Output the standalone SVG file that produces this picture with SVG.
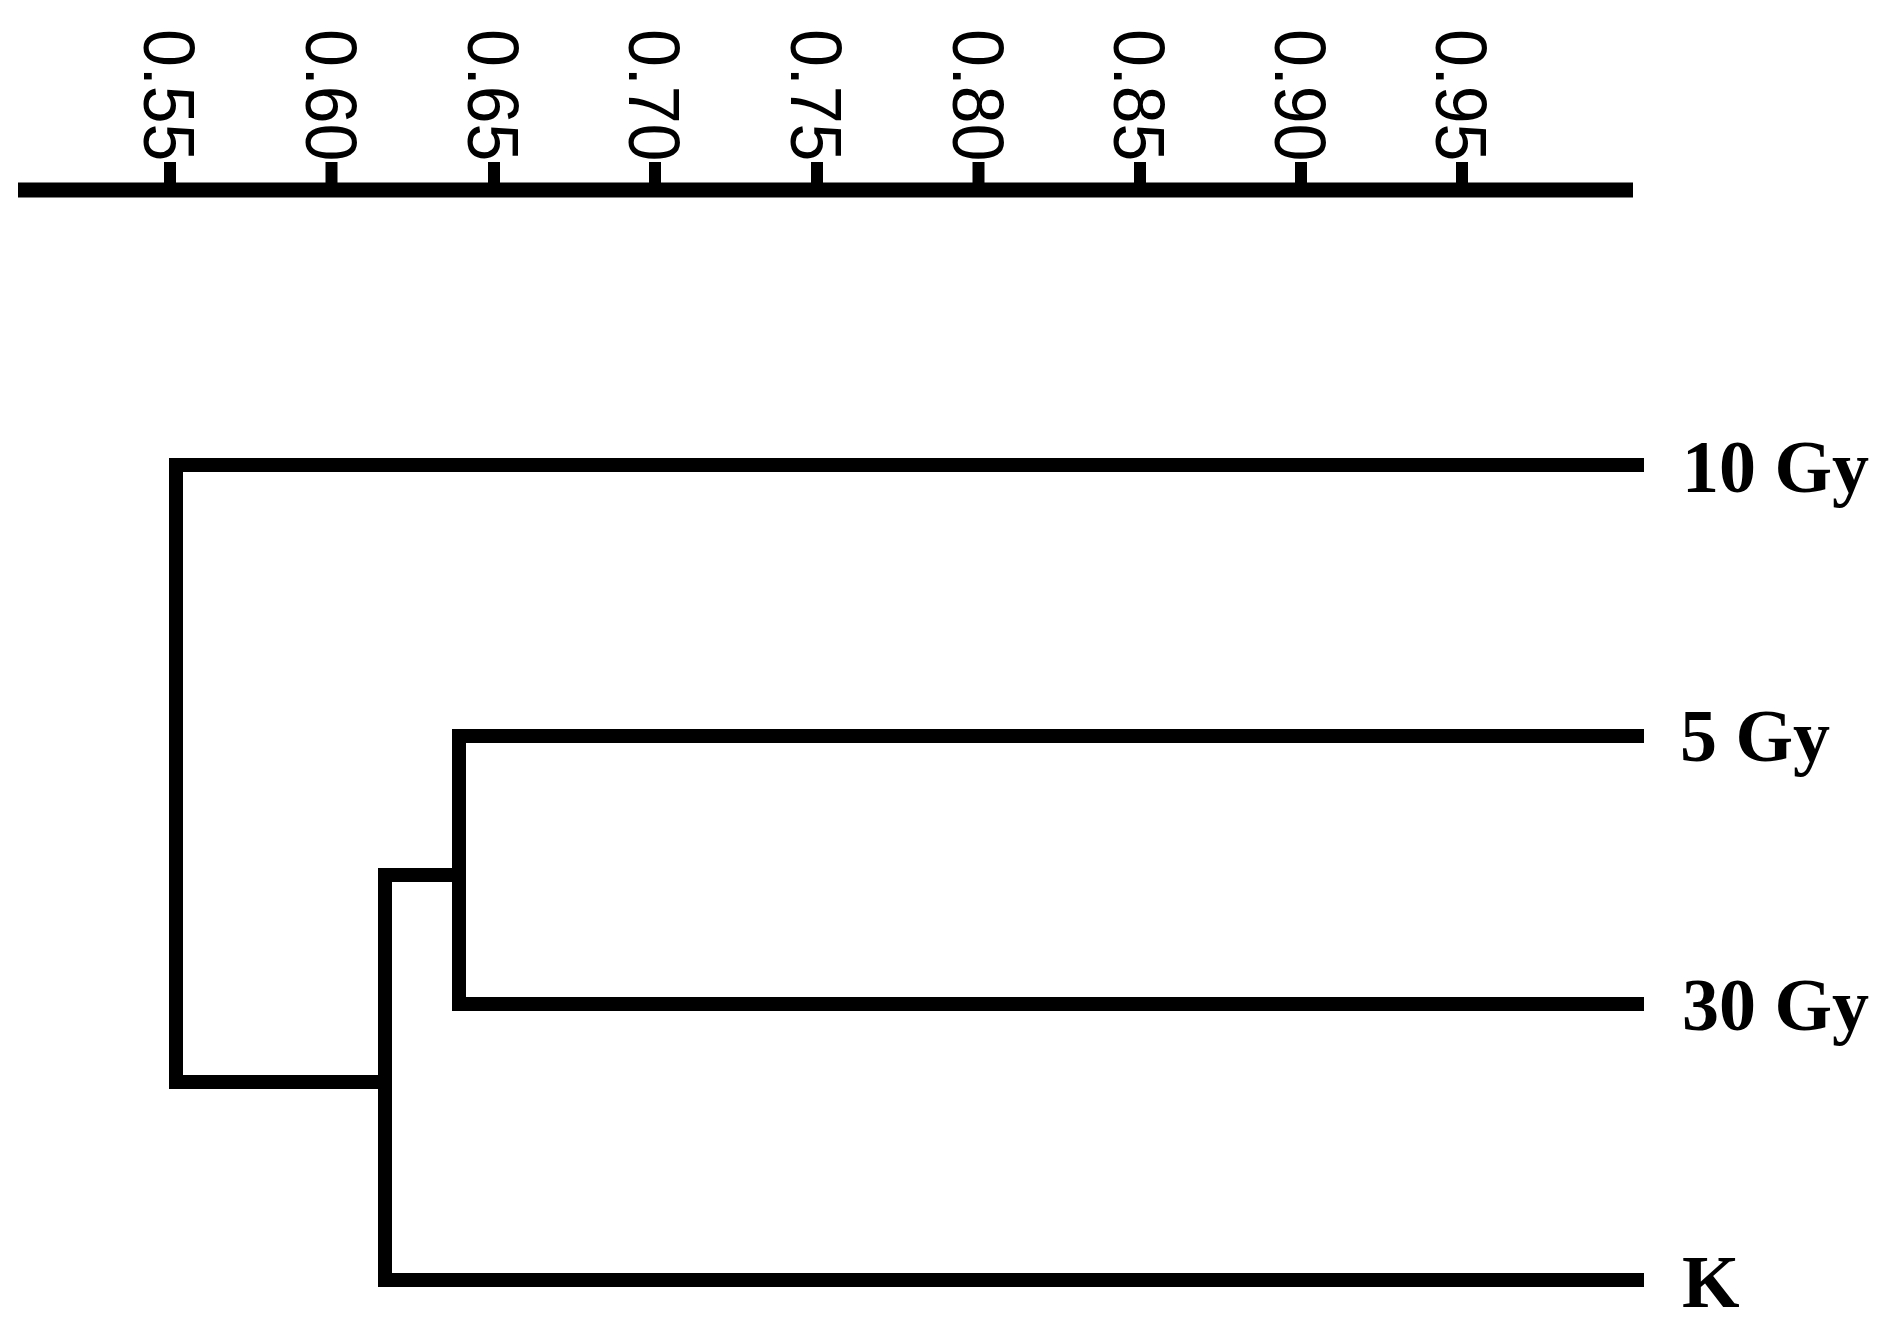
<svg xmlns="http://www.w3.org/2000/svg" width="1885" height="1337" viewBox="0 0 1885 1337">
<style>
.ln{stroke:#000;stroke-width:14;fill:none;stroke-linecap:square;stroke-linejoin:miter}
.ax{stroke:#000;stroke-width:15;fill:none}
.tk{stroke:#000;stroke-width:12;fill:none}
.tl{font-family:"Liberation Sans",Arial,sans-serif;font-size:68px;fill:#000}
.lb{font-family:"Liberation Serif","Times New Roman",serif;font-size:74px;font-weight:bold;fill:#000}
</style>
<rect width="1885" height="1337" fill="#fff"/>
<g id="axis">
<line class="ax" x1="18" y1="190" x2="1633" y2="190"/>
<g id="ticks">
<line class="tk" x1="170" y1="162" x2="170" y2="190"/>
<line class="tk" x1="331.5" y1="162" x2="331.5" y2="190"/>
<line class="tk" x1="494" y1="162" x2="494" y2="190"/>
<line class="tk" x1="655" y1="162" x2="655" y2="190"/>
<line class="tk" x1="817" y1="162" x2="817" y2="190"/>
<line class="tk" x1="978.5" y1="162" x2="978.5" y2="190"/>
<line class="tk" x1="1140" y1="162" x2="1140" y2="190"/>
<line class="tk" x1="1301" y1="162" x2="1301" y2="190"/>
<line class="tk" x1="1462" y1="162" x2="1462" y2="190"/>
</g>
<g id="tick-labels">
<text class="tl" transform="translate(144,29) rotate(90) scale(1,1.07)">0.55</text>
<text class="tl" transform="translate(305.5,29) rotate(90) scale(1,1.07)">0.60</text>
<text class="tl" transform="translate(468,29) rotate(90) scale(1,1.07)">0.65</text>
<text class="tl" transform="translate(629,29) rotate(90) scale(1,1.07)">0.70</text>
<text class="tl" transform="translate(791,29) rotate(90) scale(1,1.07)">0.75</text>
<text class="tl" transform="translate(952.5,29) rotate(90) scale(1,1.07)">0.80</text>
<text class="tl" transform="translate(1114,29) rotate(90) scale(1,1.07)">0.85</text>
<text class="tl" transform="translate(1275,29) rotate(90) scale(1,1.07)">0.90</text>
<text class="tl" transform="translate(1436,29) rotate(90) scale(1,1.07)">0.95</text>
</g>
</g>
<g id="connectors">
<path class="ln" d="M1637,465 H176 V1082 H385"/>
<path class="ln" d="M1637,1280 H385 V875 H459"/>
<path class="ln" d="M1637,736 H459 V1004 H1637"/>
</g>
<g id="node-10gy"><text class="lb" x="1682" y="492">10 Gy</text></g>
<g id="node-5gy"><text class="lb" x="1680" y="761">5 Gy</text></g>
<g id="node-30gy"><text class="lb" x="1682" y="1030">30 Gy</text></g>
<g id="node-k"><text class="lb" x="1682" y="1307">K</text></g>
</svg>
